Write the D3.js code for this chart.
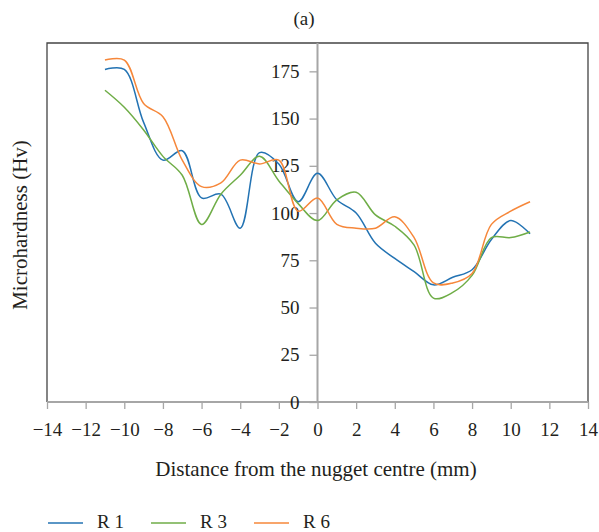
<!DOCTYPE html>
<meta charset="utf-8">
<head>
    <title>Microhardness</title>
    <style>
        body { margin: 0; background: #fff; }
        text { font-family: "Liberation Serif", "DejaVu Serif", serif; fill: #231f20; }
    </style>
</head>
<body>
<script src="https://cdn.jsdelivr.net/npm/d3@7"></script>
<svg id="chart" width="599" height="532"></svg>

<script>
    // distances (mm) where hardness was measured
    var distance = [-11, -10, -9, -8, -7, -6, -5, -4, -3, -2, -1, 0, 1, 2, 3, 4, 5, 6, 7, 8, 9, 10, 11];
    var r1 = [176, 176, 148, 128, 133, 108, 110, 92, 132, 126, 106, 121, 107, 100, 84, 76, 69, 62, 66, 70, 86, 96, 89];
    var r3 = [165, 156, 144, 130, 120, 94, 110, 120, 130, 117, 105, 96, 107, 111, 99, 93, 83, 55, 58, 67, 87, 87, 90];
    var r6 = [181, 181, 158, 151, 128, 114, 116, 128, 126, 128, 101, 108, 94, 92, 92, 98, 87, 63, 63, 68, 94, 101, 106];
    var seriesNames = ["R 1", "R 3", "R 6"];
    var xTicks = [-14, -12, -10, -8, -6, -4, -2, 0, 2, 4, 6, 8, 10, 12, 14];
    var yTicks = [0, 25, 50, 75, 100, 125, 150, 175];

    var colors = ["#2373b3", "#6fad47", "#f6873a"];
    var allSeries = [r1, r3, r6];

    var svg = d3.select("#chart"),
        plotLeft = 47, plotRight = 588, plotTop = 43, plotBottom = 402;

    var x = d3.scaleLinear().domain([-14, 14]).range([plotLeft, plotRight]);
    var y = d3.scaleLinear().domain([0, 190]).range([plotBottom, plotTop]);

    // frame (top, left, right)
    svg.append("path")
        .attr("d", "M" + plotLeft + "," + plotBottom + "V" + plotTop + "H" + plotRight + "V" + plotBottom)
        .attr("fill", "none")
        .attr("stroke", "#444")
        .attr("stroke-width", 1.3);

    // x axis at y = 0
    var xAxis = svg.append("g")
        .attr("transform", "translate(0," + y(0) + ")")
        .call(d3.axisBottom(x).tickValues(xTicks).tickSize(7).tickPadding(14)
            .tickFormat(function (d) { return d < 0 ? "\u2212" + Math.abs(d) : d; }));

    // y axis at x = 0
    var yAxis = svg.append("g")
        .attr("transform", "translate(" + x(0) + ",0)")
        .call(d3.axisLeft(y).tickValues(yTicks).tickSize(8).tickPadding(10));

    [xAxis, yAxis].forEach(function (g) {
        g.attr("font-family", "Liberation Serif, DejaVu Serif, serif").attr("font-size", 19);
        g.select(".domain").attr("stroke", "#a6a6a6").attr("stroke-width", 2);
        g.selectAll(".tick line").attr("stroke", "#a6a6a6").attr("stroke-width", 1.3);
        g.selectAll(".tick text").attr("fill", "#231f20");
    });
    yAxis.select(".domain").attr("d", "M0," + plotBottom + "V" + plotTop);
    xAxis.select(".domain").attr("d", "M" + plotLeft + ",0H" + plotRight);

    var line = d3.line()
        .x(function (d, i) { return x(distance[i]); })
        .y(function (d) { return y(d); })
        .curve(d3.curveCatmullRom);

    allSeries.forEach(function (s, i) {
        svg.append("path")
            .datum(s)
            .attr("d", line)
            .attr("fill", "none")
            .attr("stroke", colors[i])
            .attr("stroke-width", 1.5);
    });

    // titles
    svg.append("text").attr("x", 304).attr("y", 25).attr("text-anchor", "middle")
        .style("font-size", "19px").text("(a)");
    svg.append("text").attr("x", 316).attr("y", 476).attr("text-anchor", "middle")
        .style("font-size", "21px").text("Distance from the nugget centre (mm)");
    svg.append("text").attr("transform", "translate(27,225) rotate(-90)").attr("text-anchor", "middle")
        .style("font-size", "21px").text("Microhardness (Hv)");

    // legend
    var legendX = [48, 151, 254];
    seriesNames.forEach(function (name, i) {
        svg.append("line")
            .attr("x1", legendX[i]).attr("x2", legendX[i] + 35)
            .attr("y1", 523).attr("y2", 523)
            .attr("stroke", colors[i]).attr("stroke-width", 1.5);
        svg.append("text")
            .attr("x", legendX[i] + 49).attr("y", 528)
            .style("font-size", "19px").text(name);
    });
</script>

</body>
